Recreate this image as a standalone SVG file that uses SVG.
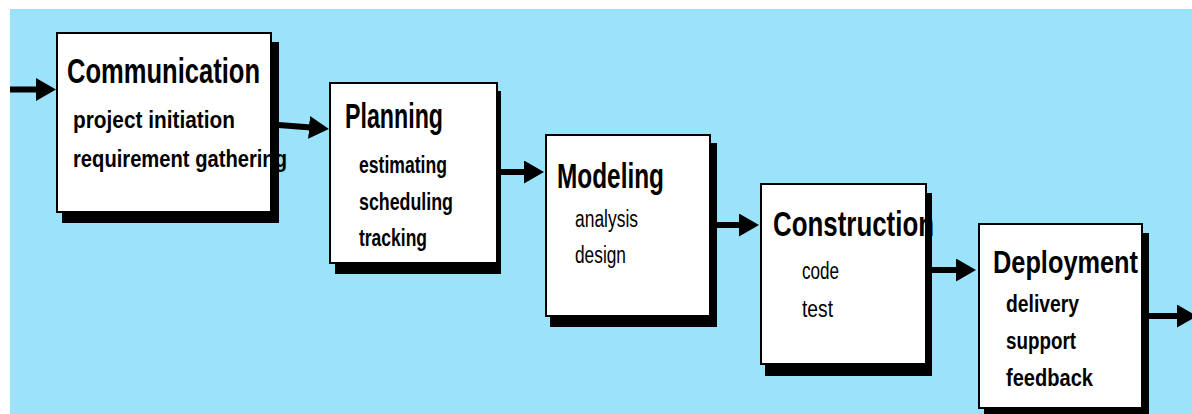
<svg xmlns="http://www.w3.org/2000/svg" width="1192" height="414" viewBox="0 0 1192 414">
<style>
.box{fill:#ffffff;stroke:#000000;stroke-width:2}
.shadow{fill:#000000}
.title{font-family:"Liberation Sans",Arial,sans-serif;font-weight:bold;font-size:35px;fill:#000}
.sub{font-family:"Liberation Sans",Arial,sans-serif;font-weight:bold;font-size:23px;fill:#000}
.subn{font-family:"Liberation Sans",Arial,sans-serif;font-weight:normal;font-size:23px;fill:#000}
.conn{stroke:#000;stroke-width:6;fill:none;marker-end:url(#head)}
</style>
<defs>
<marker id="head" markerUnits="userSpaceOnUse" markerWidth="22" markerHeight="24" refX="2" refY="11.5" orient="auto" viewBox="0 0 22 24">
<path d="M0,0 L20,11.5 L0,23 z" fill="#000"/>
</marker>
</defs>
<rect x="0" y="0" width="1192" height="414" fill="#ffffff"/>
<rect x="10" y="9" width="1182" height="405" fill="#9AE3FA"/>
<g id="connectors">
<line class="conn" x1="10" y1="89.5" x2="38" y2="89.5"/>
<line class="conn" x1="272" y1="124.5" x2="311" y2="127.5"/>
<line class="conn" x1="497" y1="172" x2="526" y2="172"/>
<line class="conn" x1="710" y1="225" x2="741" y2="225"/>
<line class="conn" x1="926" y1="270" x2="958" y2="270"/>
<line class="conn" x1="1142" y1="316" x2="1179" y2="316"/>
</g>
<g id="communication">
<rect class="shadow" x="62" y="42" width="217" height="181"/>
<rect class="box" x="57" y="33" width="214" height="179"/>
<text class="title" x="67" y="83" textLength="193" lengthAdjust="spacingAndGlyphs">Communication</text>
<text class="sub" x="73" y="128" textLength="162" lengthAdjust="spacingAndGlyphs">project initiation</text>
<text class="sub" x="73" y="167" textLength="214" lengthAdjust="spacingAndGlyphs">requirement gathering</text>
</g>
<g id="planning">
<rect class="shadow" x="335" y="91" width="166" height="183"/>
<rect class="box" x="330" y="83" width="167" height="180"/>
<text class="title" x="345" y="128" textLength="98" lengthAdjust="spacingAndGlyphs">Planning</text>
<text class="sub" x="359" y="173" textLength="88" lengthAdjust="spacingAndGlyphs">estimating</text>
<text class="sub" x="359" y="210" textLength="94" lengthAdjust="spacingAndGlyphs">scheduling</text>
<text class="sub" x="359" y="246" textLength="68" lengthAdjust="spacingAndGlyphs">tracking</text>
</g>
<g id="modeling">
<rect class="shadow" x="550" y="143" width="167" height="184"/>
<rect class="box" x="546" y="135" width="164" height="181"/>
<text class="title" x="557" y="188" textLength="107" lengthAdjust="spacingAndGlyphs">Modeling</text>
<text class="subn" x="575" y="227" textLength="63" lengthAdjust="spacingAndGlyphs">analysis</text>
<text class="subn" x="575" y="263" textLength="51" lengthAdjust="spacingAndGlyphs">design</text>
</g>
<g id="construction">
<rect class="shadow" x="765" y="193" width="167" height="183"/>
<rect class="box" x="761" y="184" width="165" height="180"/>
<text class="title" x="773" y="236" textLength="161" lengthAdjust="spacingAndGlyphs">Construction</text>
<text class="subn" x="802" y="279" textLength="37" lengthAdjust="spacingAndGlyphs">code</text>
<text class="subn" x="802" y="317" textLength="31" lengthAdjust="spacingAndGlyphs">test</text>
</g>
<g id="deployment">
<rect class="shadow" x="984" y="233" width="165" height="185"/>
<rect class="box" x="979" y="224" width="163" height="184"/>
<text class="title" x="993" y="273" textLength="145" lengthAdjust="spacingAndGlyphs" style="font-size:32px">Deployment</text>
<text class="sub" x="1006" y="312" textLength="73" lengthAdjust="spacingAndGlyphs">delivery</text>
<text class="sub" x="1006" y="349" textLength="70" lengthAdjust="spacingAndGlyphs">support</text>
<text class="sub" x="1006" y="386" textLength="87" lengthAdjust="spacingAndGlyphs">feedback</text>
</g>
</svg>
